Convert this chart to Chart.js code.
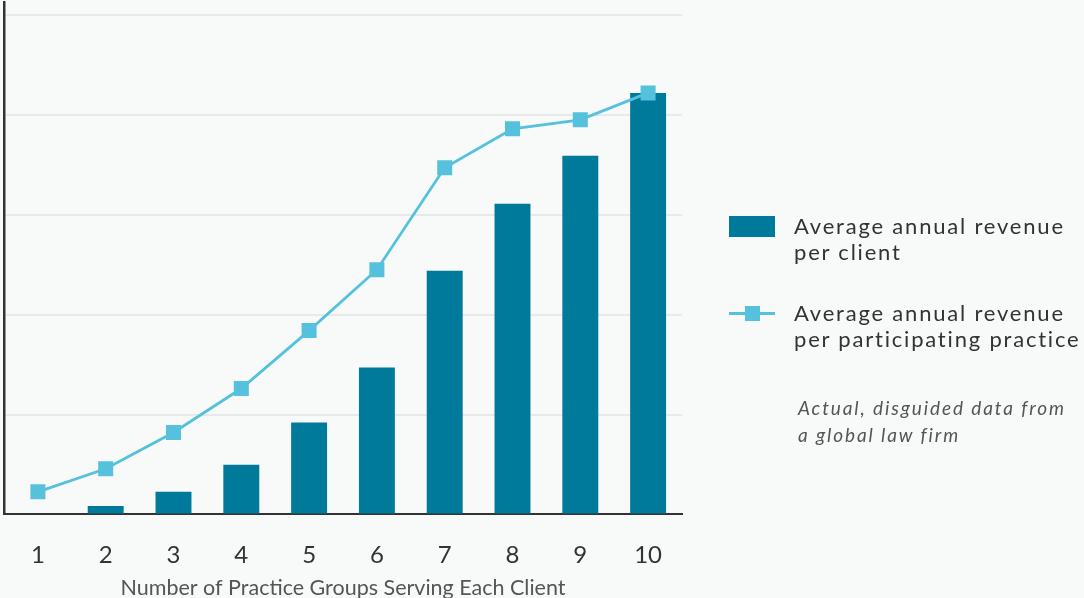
<!DOCTYPE html>
<html>
<head>
<meta charset="utf-8">
<script src="https://cdn.jsdelivr.net/npm/chart.js@4/dist/chart.umd.min.js"></script>
<style>
  html, body { margin: 0; padding: 0; background: #f8f9f9; }
  #wrap { position: relative; width: 1084px; height: 598px; overflow: hidden; font-family: Lato, "Open Sans", sans-serif; }
  canvas { position: absolute; left: 0; top: 0; }
  .leg { position: absolute; left: 794px; color: #333; font-size: 22px; line-height: 26px; letter-spacing: 1.8px; white-space: nowrap; }
  .sw-bar { position: absolute; left: 729px; top: 216px; width: 46px; height: 21px; background: #007a9a; }
  .sw-line { position: absolute; left: 729px; top: 312px; width: 46px; height: 3px; background: #55c1dc; }
  .sw-pt { position: absolute; left: 745px; top: 306px; width: 15px; height: 15px; background: #55c1dc; }
  .note { position: absolute; left: 798px; top: 394px; color: #555; font-size: 19px; line-height: 27px; font-style: italic; letter-spacing: 1.9px; white-space: nowrap; }
</style>
</head>
<body>
<div id="wrap">
  <canvas id="chart" width="1084" height="598"></canvas>
  <div class="sw-bar"></div>
  <div class="leg" style="top:213px">Average annual revenue<br>per client</div>
  <div class="sw-line"></div><div class="sw-pt"></div>
  <div class="leg" style="top:300px">Average annual revenue<br>per participating practice</div>
  <div class="note">Actual, disguided data from<br>a global law firm</div>
</div>
<script>
// Number of practice groups serving each client
const categories = ['1', '2', '3', '4', '5', '6', '7', '8', '9', '10'];
// Average annual revenue per client (relative units)
const revenuePerClient = [0, 0.085, 0.226, 0.497, 0.92, 1.47, 2.44, 3.11, 3.59, 4.22];
// Average annual revenue per participating practice (relative units)
const revenuePerPractice = [0.226, 0.457, 0.82, 1.26, 1.84, 2.45, 3.47, 3.86, 3.95, 4.22];
// Horizontal gridline positions
const gridValues = [0, 1, 2, 3, 4, 5];
const seriesNames = ['Average annual revenue per client', 'Average annual revenue per participating practice'];
const xTitle = 'Number of Practice Groups Serving Each Client';

const ctx = document.getElementById('chart').getContext('2d');
new Chart(ctx, {
  data: {
    labels: categories,
    datasets: [
      {
        type: 'line',
        label: seriesNames[1],
        data: revenuePerPractice,
        borderColor: '#55c1dc',
        backgroundColor: '#55c1dc',
        borderWidth: 2.8,
        tension: 0,
        pointStyle: 'rect',
        pointRadius: 10.6,
        pointBorderWidth: 0,
        order: 0
      },
      {
        type: 'bar',
        label: seriesNames[0],
        data: revenuePerClient,
        backgroundColor: '#007a9a',
        categoryPercentage: 1,
        barPercentage: 0.53,
        order: 1
      }
    ]
  },
  options: {
    responsive: false,
    animation: false,
    layout: { autoPadding: false, padding: { left: 4, right: 402, top: 2, bottom: -3 } },
    plugins: { legend: { display: false }, tooltip: { enabled: false } },
    scales: {
      x: {
        grid: { display: false, drawTicks: false },
        border: { display: true, color: '#333', width: 2 },
        ticks: { color: '#333', font: { family: 'Lato', size: 24 }, padding: 26 },
        title: { display: true, text: xTitle, color: '#555', font: { family: 'Lato', size: 21.5 }, padding: { top: -20, bottom: 0 } }
      },
      y: {
        min: 0,
        max: 5.13,
        afterBuildTicks: (scale) => { scale.ticks = gridValues.map(v => ({ value: v })); },
        ticks: { display: false },
        grid: { color: '#e8e9ea', lineWidth: 2, drawTicks: false },
        border: { display: true, color: '#333', width: 2.5 }
      }
    }
  }
});
</script>
</body>
</html>
